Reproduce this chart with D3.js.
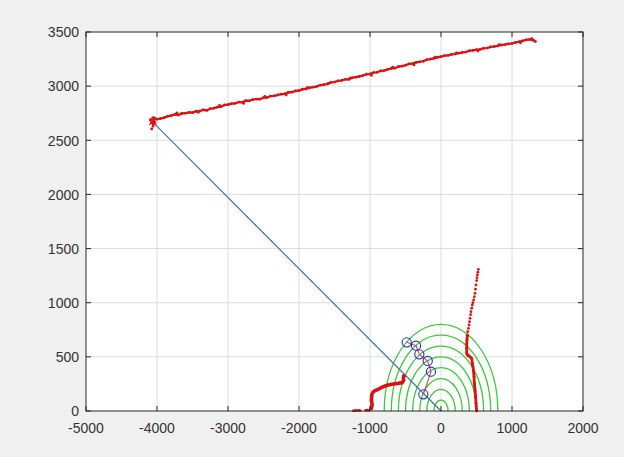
<!DOCTYPE html>
<html>
<head>
<meta charset="utf-8">
<script src="https://cdn.jsdelivr.net/npm/d3@7"></script>
<style>
  body { margin: 0; background: #f0f0f0; }
  svg { display: block; font-family: "Liberation Sans", Arial, sans-serif; }
</style>
</head>
<body>
<div id="chart"></div>
<script>
const width = 624;
const height = 457;

const xTicks = [-5000, -4000, -3000, -2000, -1000, 0, 1000, 2000];
const yTicks = [0, 500, 1000, 1500, 2000, 2500, 3000, 3500];

// radii of the green range rings
const ringRadii = [100, 200, 300, 400, 500, 600, 700, 800];

// blue ray from origin to the far corner
const ray = [[-4052, 2663], [0, 0]];

// tracked targets (blue circles joined by a line)
const track = [[-483, 634], [-352, 603], [-305, 523], [-187, 462], [-141, 363], [-249, 154]];

// far wall scan
const topScan = [
    [-4000, 2694], [-3950, 2701], [-3900, 2708], [-3850, 2722], [-3800, 2728], [-3750, 2738],
    [-3700, 2733], [-3650, 2748], [-3600, 2750], [-3550, 2758], [-3500, 2756], [-3450, 2768],
    [-3400, 2770], [-3350, 2781], [-3300, 2776], [-3250, 2792], [-3200, 2796], [-3150, 2806],
    [-3100, 2810], [-3050, 2826], [-3000, 2829], [-2950, 2838], [-2900, 2840], [-2850, 2853],
    [-2800, 2851], [-2750, 2866], [-2700, 2864], [-2650, 2876], [-2600, 2881], [-2550, 2880],
    [-2500, 2893], [-2450, 2894], [-2400, 2908], [-2350, 2910], [-2300, 2918], [-2250, 2926],
    [-2200, 2929], [-2150, 2942], [-2100, 2944], [-2050, 2956], [-2000, 2958], [-1950, 2972],
    [-1900, 2974], [-1850, 2985], [-1800, 2991], [-1750, 2997], [-1700, 3010], [-1650, 3014],
    [-1600, 3020], [-1550, 3035], [-1500, 3038], [-1450, 3049], [-1400, 3052], [-1350, 3063],
    [-1300, 3062], [-1250, 3078], [-1200, 3083], [-1150, 3090], [-1100, 3098], [-1050, 3110],
    [-1000, 3112], [-950, 3125], [-900, 3128], [-850, 3141], [-800, 3144], [-750, 3155],
    [-700, 3163], [-650, 3166], [-600, 3180], [-550, 3185], [-500, 3193], [-450, 3205],
    [-400, 3208], [-350, 3219], [-300, 3225], [-250, 3230], [-200, 3244], [-150, 3250],
    [-100, 3256], [-50, 3266], [0, 3272], [50, 3282], [100, 3284], [150, 3293],
    [200, 3297], [250, 3305], [300, 3311], [350, 3315], [400, 3327], [450, 3330],
    [500, 3336], [550, 3340], [600, 3350], [650, 3352], [700, 3362], [750, 3366],
    [800, 3372], [850, 3380], [900, 3384], [950, 3391], [1000, 3394], [1050, 3404],
    [1100, 3410], [1150, 3418], [1200, 3428], [1250, 3431], [1300, 3424], [1330, 3412]
];

// stray returns scattered along the far wall
const topStray = [
    [-3720, 2752], [-3420, 2758], [-3120, 2822], [-2780, 2840], [-2480, 2906], [-2180, 2918],
    [-1880, 2988], [-1580, 3026], [-1280, 3074], [-980, 3100], [-680, 3176], [-380, 3196],
    [-80, 3268], [220, 3308], [520, 3324], [820, 3384], [1120, 3400], [1280, 3438]
];

// scattered returns at the corner
const cornerDots = [
    [-4060, 2672], [-4080, 2660], [-4040, 2690], [-4070, 2700], [-4050, 2650],
    [-4090, 2685], [-4030, 2665], [-4075, 2604], [-4020, 2700], [-4055, 2630], [-4045, 2710]
];

// right wall, sparse part then dense part
const rightSparse = [
    [526, 1308], [519, 1282], [512, 1256], [507, 1230], [502, 1204], [493, 1164],
    [486, 1125], [479, 1087], [470, 1056], [460, 1025], [450, 1000], [441, 979],
    [432, 950], [423, 917], [416, 890], [409, 856], [402, 825], [395, 794],
    [386, 763], [376, 733], [371, 700]
];
const rightDense = [
    [371, 700], [366, 656], [363, 620], [362, 579], [362, 533], [375, 515], [395, 508],
    [415, 496], [432, 486], [441, 440], [450, 410], [456, 379], [465, 317], [470, 256],
    [479, 194], [488, 132], [493, 71], [502, 0]
];

// left wall
const leftDots = [[-1235, 2], [-1210, 5], [-1188, 4], [-1160, 6], [-1141, 3], [-1060, 5], [-1040, 8], [-1014, 6]];
const leftDense = [
    [-990, 10], [-980, 30], [-970, 55], [-975, 80], [-980, 102], [-977, 130], [-974, 150],
    [-960, 172], [-929, 188], [-883, 200], [-835, 219], [-789, 231], [-742, 240], [-672, 249],
    [-601, 255], [-545, 262], [-525, 286], [-530, 302], [-525, 323], [-507, 332]
];

const margin = { left: 86, right: 41, top: 32, bottom: 46 };

const x = d3.scaleLinear().domain([-5000, 2000]).range([margin.left, width - margin.right]);
const y = d3.scaleLinear().domain([0, 3500]).range([height - margin.bottom, margin.top]);

const svg = d3.select('#chart')
    .append('svg')
    .attr('width', width)
    .attr('height', height);

svg.append('rect')
    .attr('width', width).attr('height', height)
    .attr('fill', '#f0f0f0');

svg.append('rect')
    .attr('x', x(-5000)).attr('y', y(3500))
    .attr('width', x(2000) - x(-5000)).attr('height', y(0) - y(3500))
    .attr('fill', '#fff');

// grid
svg.append('g')
    .selectAll('line')
    .data(xTicks.slice(1, -1))
    .enter().append('line')
    .attr('x1', d => x(d)).attr('x2', d => x(d))
    .attr('y1', y(0)).attr('y2', y(3500))
    .attr('stroke', '#dcdcdc');

svg.append('g')
    .selectAll('line')
    .data(yTicks.slice(1, -1))
    .enter().append('line')
    .attr('y1', d => y(d)).attr('y2', d => y(d))
    .attr('x1', x(-5000)).attr('x2', x(2000))
    .attr('stroke', '#dcdcdc');

// rings
svg.append('g')
    .selectAll('path')
    .data(ringRadii)
    .enter().append('path')
    .attr('d', r => {
        const rx = x(r) - x(0);
        const ry = y(0) - y(r);
        return `M${x(-r)},${y(0)} A${rx},${ry} 0 0 1 ${x(r)},${y(0)}`;
    })
    .attr('fill', 'none')
    .attr('stroke', '#38cc38')
    .attr('stroke-width', 1.3);

const line = d3.line().x(d => x(d[0])).y(d => y(d[1]));

svg.append('path')
    .attr('d', line(ray))
    .attr('fill', 'none')
    .attr('stroke', '#3a78a6')
    .attr('stroke-width', 1.2);

// red scans
const red = '#dc1212';

svg.append('path').attr('d', line(topScan))
    .attr('fill', 'none').attr('stroke', red).attr('stroke-width', 2.2);
svg.append('path').attr('d', line(rightDense))
    .attr('fill', 'none').attr('stroke', red).attr('stroke-width', 2.8);
svg.append('path').attr('d', line(leftDense))
    .attr('fill', 'none').attr('stroke', red).attr('stroke-width', 3.6);

svg.append('g')
    .selectAll('circle')
    .data(topScan.concat(topStray, cornerDots, rightSparse, rightDense, leftDots))
    .enter().append('circle')
    .attr('cx', d => x(d[0]))
    .attr('cy', d => y(d[1]))
    .attr('r', 1.4)
    .attr('fill', red);

// corner star
svg.append('g')
    .selectAll('line')
    .data([[-4110, 2640, -4010, 2700], [-4110, 2700, -4010, 2640], [-4060, 2620, -4060, 2720]])
    .enter().append('line')
    .attr('x1', d => x(d[0])).attr('y1', d => y(d[1]))
    .attr('x2', d => x(d[2])).attr('y2', d => y(d[3]))
    .attr('stroke', red).attr('stroke-width', 1.2);

// track
svg.append('path')
    .attr('d', line(track))
    .attr('fill', 'none')
    .attr('stroke', '#d8406a')
    .attr('stroke-width', 1.1);

svg.append('g')
    .selectAll('circle')
    .data(track)
    .enter().append('circle')
    .attr('cx', d => x(d[0]))
    .attr('cy', d => y(d[1]))
    .attr('r', 4.6)
    .attr('fill', 'none')
    .attr('stroke', '#2a2ad0')
    .attr('stroke-width', 1.1);

// box and ticks
const axisColor = '#262626';
svg.append('rect')
    .attr('x', x(-5000)).attr('y', y(3500))
    .attr('width', x(2000) - x(-5000)).attr('height', y(0) - y(3500))
    .attr('fill', 'none').attr('stroke', axisColor).attr('stroke-width', 1);

const tickLen = 5;
const ticks = svg.append('g').attr('stroke', axisColor);
xTicks.forEach(t => {
    ticks.append('line').attr('x1', x(t)).attr('x2', x(t)).attr('y1', y(0)).attr('y2', y(0) - tickLen);
    ticks.append('line').attr('x1', x(t)).attr('x2', x(t)).attr('y1', y(3500)).attr('y2', y(3500) + tickLen);
});
yTicks.forEach(t => {
    ticks.append('line').attr('y1', y(t)).attr('y2', y(t)).attr('x1', x(-5000)).attr('x2', x(-5000) + tickLen);
    ticks.append('line').attr('y1', y(t)).attr('y2', y(t)).attr('x1', x(2000)).attr('x2', x(2000) - tickLen);
});

svg.append('g')
    .selectAll('text')
    .data(xTicks)
    .enter().append('text')
    .attr('x', d => x(d))
    .attr('y', y(0) + 22)
    .attr('text-anchor', 'middle')
    .attr('font-size', 14)
    .attr('fill', '#333')
    .text(d => String(d));

svg.append('g')
    .selectAll('text')
    .data(yTicks)
    .enter().append('text')
    .attr('x', x(-5000) - 7)
    .attr('y', d => y(d))
    .attr('dy', '0.38em')
    .attr('text-anchor', 'end')
    .attr('font-size', 14)
    .attr('fill', '#333')
    .text(d => String(d));
</script>
</body>
</html>
